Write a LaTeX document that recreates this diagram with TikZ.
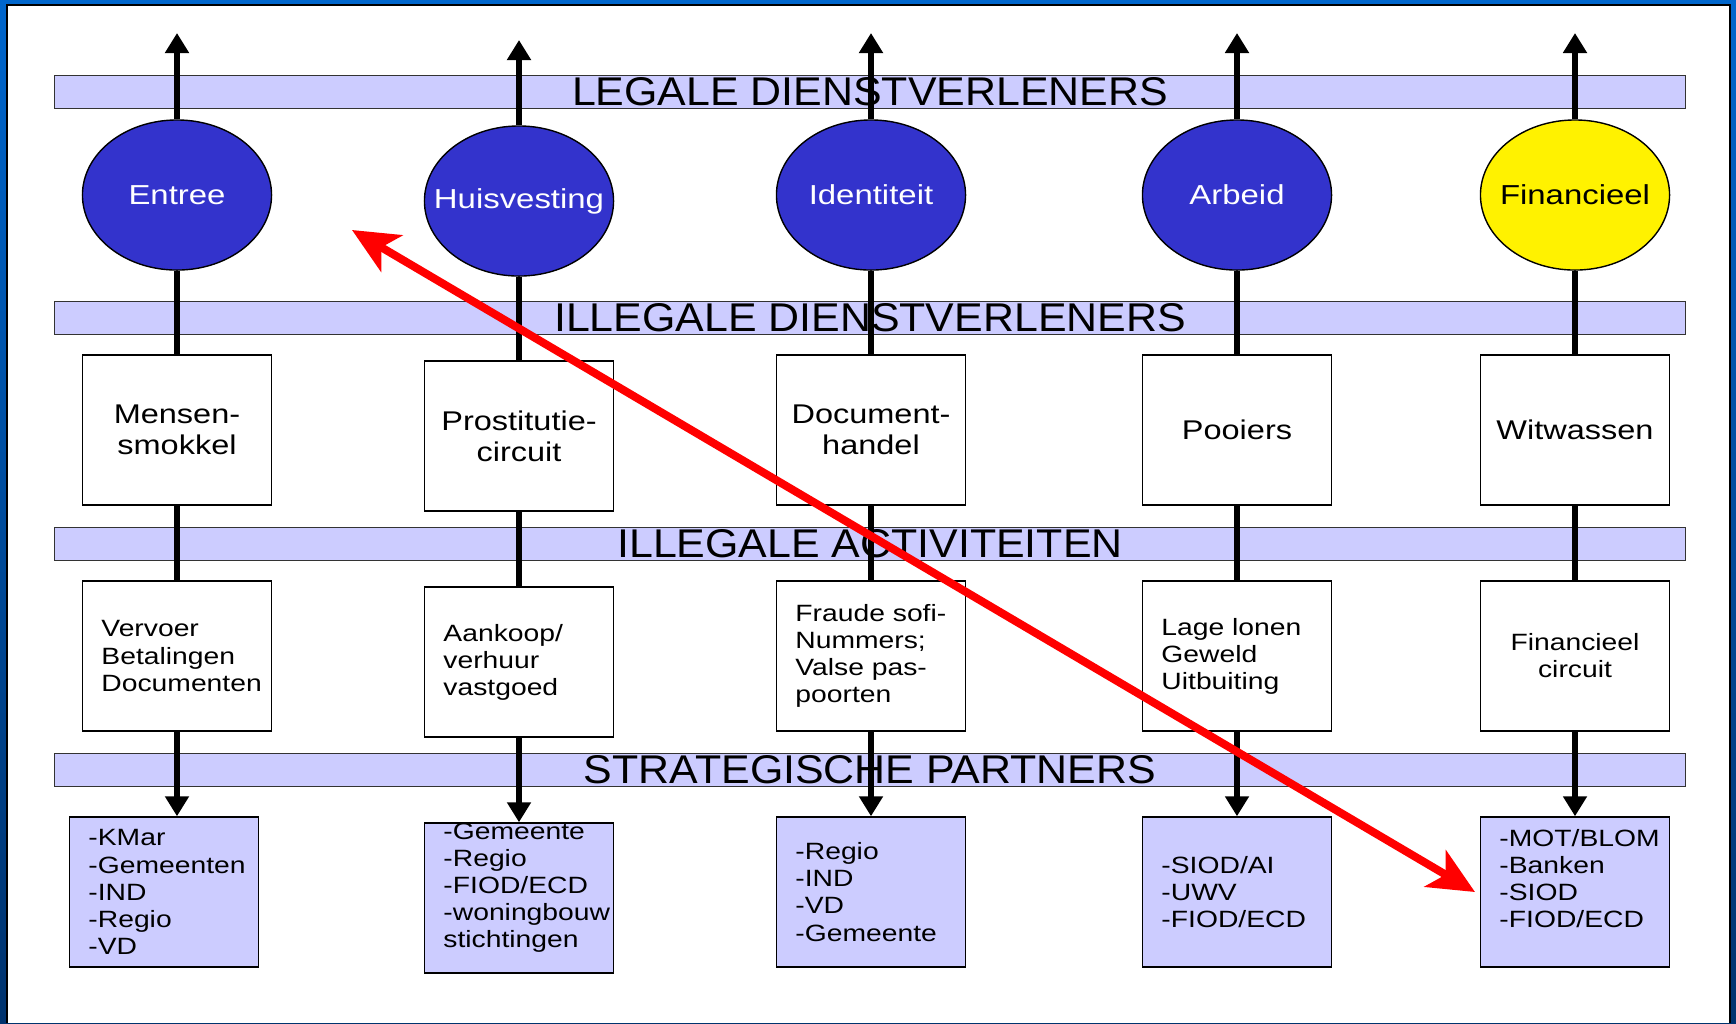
\documentclass[tikz,border=0pt]{standalone}
\usepackage{fontspec}
\setmainfont{Liberation Sans}
\newfontfamily\bandfont{Liberation Sans}[FakeStretch=1.07]
\newfontfamily\boxfont{Liberation Sans}[FakeStretch=1.2]
\usetikzlibrary{arrows.meta,shapes.geometric}
\definecolor{lavender}{RGB}{204,204,255}
\definecolor{ovalblue}{RGB}{51,51,204}
\definecolor{frameblue}{RGB}{0,102,204}
\definecolor{framedark}{RGB}{0,51,110}
\hyphenpenalty=10000
\exhyphenpenalty=10000
\newcommand{\ovaltext}[1]{\makebox[0pt]{#1}}
\newcommand{\toplist}[2]{\parbox[c][1.5cm][t]{1.51cm}{\raggedright\vspace*{#1}#2}}

\begin{document}
\begin{tikzpicture}[x=0.01cm,y=-0.01cm]
      \tikzstyle{band}=[draw=black!80, fill=lavender, line width=0.4pt, minimum width=16.3cm, minimum height=0.33cm, inner sep=0pt, font=\bandfont\fontsize{11.4}{12}\selectfont]
      \tikzstyle{sector}=[ellipse, draw=black, line width=0.4pt, fill=ovalblue, text=white, minimum width=1.89cm, minimum height=1.5cm, inner sep=0pt, font=\boxfont\fontsize{7.8}{8.8}\selectfont]
      \tikzstyle{actor}=[rectangle, draw=black, fill=white, line width=0.4pt, minimum width=1.89cm, minimum height=1.5cm, inner sep=0pt, align=center, font=\boxfont\fontsize{7.7}{8.8}\selectfont]
      \tikzstyle{activity}=[actor, align=left, text width=1.51cm, font=\boxfont\fontsize{6.7}{7.7}\selectfont]
      \tikzstyle{partner}=[activity, fill=lavender]
      \tikzstyle{flow}=[line width=0.058cm, black]
      \tikzstyle{up flow}=[flow, -{Triangle[length=0.2cm,width=0.23cm]}]

      \useasboundingbox (0,0) rectangle (1736,1023);

      % Slide background
      \shade[top color=frameblue, bottom color=framedark] (0,0) rectangle (1736,1023);
      \fill[white] (7,5) rectangle (1730,1023);
      \draw[line width=0.3pt] (7,1023) -- (7,5) -- (1730,5) -- (1730,1023);

      % Draw the bands
      \node[band] (B-legal) at (870,92) {LEGALE DIENSTVERLENERS};
      \node[band] (B-illegal) at (870,318) {ILLEGALE DIENSTVERLENERS};
      \node[band] (B-act) at (870,544) {ILLEGALE ACTIVITEITEN};
      \node[band] (B-partner) at (870,770) {STRATEGISCHE PARTNERS};

      % Draw the sectors
      \node[sector] (S-1) at (177,195) {\ovaltext{Entree}};
      \node[sector] (S-2) at (519,201) {\ovaltext{Huisvesting}};
      \node[sector] (S-3) at (871,195) {\ovaltext{Identiteit}};
      \node[sector] (S-4) at (1237,195) {\ovaltext{Arbeid}};
      \node[sector, fill=yellow, text=black] (S-5) at (1575,195) {\ovaltext{Financieel}};

      % Draw the illegal service providers
      \node[actor] (A-1) at (177,430) {Mensen-\\smokkel};
      \node[actor] (A-2) at (519,436) {Prostitutie-\\circuit};
      \node[actor] (A-3) at (871,430) {Document-\\handel};
      \node[actor] (A-4) at (1237,430) {Pooiers};
      \node[actor] (A-5) at (1575,430) {Witwassen};

      % Draw the illegal activities
      \node[activity] (R-1) at (177,656) {Vervoer\\Betalingen\\Documenten};
      \node[activity] (R-2) at (519,662) {Aankoop/\\verhuur\\vastgoed};
      \node[activity] (R-3) at (871,656) {Fraude sofi-\\Nummers;\\Valse pas-\\poorten};
      \node[activity] (R-4) at (1237,656) {Lage lonen\\Geweld\\Uitbuiting};
      \node[activity, align=center] (R-5) at (1575,656) {Financieel\\circuit};

      % Draw the strategic partners
      \node[partner] (P-1) at (164,892) {-KMar\\-Gemeenten\\-IND\\-Regio\\-VD};
      \node[partner] (P-2) at (519,898) {\toplist{0cm}{-Gemeente\\-Regio\\-FIOD/ECD\\-woningbouw\\stichtingen}};
      \node[partner] (P-3) at (871,892) {-Regio\\-IND\\-VD\\-Gemeente};
      \node[partner] (P-4) at (1237,892) {-SIOD/AI\\-UWV\\-FIOD/ECD};
      \node[partner] (P-5) at (1575,892) {\toplist{0.12cm}{-MOT/BLOM\\-Banken\\-SIOD\\-FIOD/ECD}};

      % Ends of the upward arrows
      \coordinate (T-1) at (177,33);
      \coordinate (T-2) at (519,40);
      \coordinate (T-3) at (871,33);
      \coordinate (T-4) at (1237,33);
      \coordinate (T-5) at (1575,33);

      % Connect every column from top to bottom
      \foreach \col in {1,...,5} {
          \draw[up flow] (S-\col.north) -- (T-\col);
          \draw[flow] (S-\col.south) -- (A-\col.north);
          \draw[flow] (A-\col.south) -- (R-\col.north);
          \draw[up flow] (R-\col.south) -- (R-\col.south |- P-\col.north);
      }

      % The red link between entry and finance
      \coordinate (link-a) at (352,230);
      \coordinate (link-b) at (1475,892);
      \draw[red, line width=0.08cm, {Stealth[length=0.46cm,width=0.42cm,inset=0.12cm]}-{Stealth[length=0.46cm,width=0.42cm,inset=0.12cm]}] (link-a) -- (link-b);
\end{tikzpicture}
\end{document}
